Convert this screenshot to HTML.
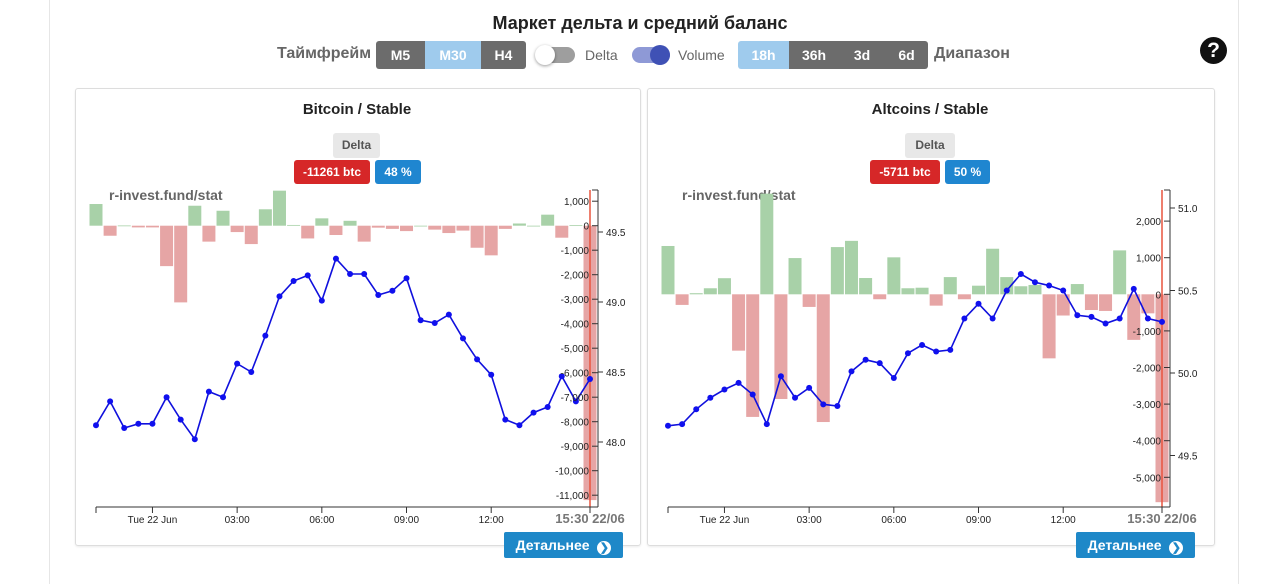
<!DOCTYPE html>
<html><head><meta charset="utf-8">
<style>
body{margin:0;background:#fff;font-family:"Liberation Sans",sans-serif;}
#root{position:relative;width:1280px;height:584px;overflow:hidden;}
.abs{position:absolute;}
.vline{position:absolute;top:0;width:1px;height:584px;background:#e6e6e6;}
.title{left:0;width:1280px;top:13px;text-align:center;font-weight:bold;font-size:18px;color:#222;}
.lbl{font-weight:bold;font-size:16px;color:#666;top:45px;}
.seg{top:41px;height:28px;display:flex;border-radius:3px;overflow:hidden;}
.seg div{color:#fff;font-weight:bold;font-size:14px;line-height:28px;text-align:center;background:#6c6c6c;}
.seg div.on{background:#9fcbed;}
.card{border:1px solid #ddd;border-radius:3px;top:88px;height:456px;box-shadow:0 1px 2px rgba(0,0,0,.08);}
.ctitle{font-weight:bold;font-size:15px;color:#222;text-align:center;}
.badge{font-size:12px;font-weight:bold;text-align:center;border-radius:3px;}
.btn{background:#1e88c8;color:#fff;font-weight:bold;font-size:14px;border-radius:2px;height:26px;line-height:26px;width:119px;text-align:center;}
</style></head><body>
<div id="root">
<div class="vline" style="left:49px"></div>
<div class="vline" style="left:1238px"></div>
<div class="abs title">Маркет дельта и средний баланс</div>
<div class="abs lbl" style="left:277px">Таймфрейм</div>
<div class="abs seg" style="left:376px">
<div style="width:49px">M5</div>
<div class="on" style="width:56px">M30</div>
<div style="width:45px">H4</div></div>
<div class="abs" style="left:537px;top:47px;width:38px;height:16px;border-radius:8px;background:#9e9e9e"><div style="position:absolute;left:-2px;top:-2px;width:20px;height:20px;border-radius:50%;background:#fff;box-shadow:0 1px 3px rgba(0,0,0,.4)"></div></div>
<div class="abs" style="left:585px;top:47px;font-size:14px;color:#666">Delta</div>
<div class="abs" style="left:632px;top:47px;width:38px;height:16px;border-radius:8px;background:#8e99d6"><div style="position:absolute;left:18px;top:-2px;width:20px;height:20px;border-radius:50%;background:#3f51b5"></div></div>
<div class="abs" style="left:678px;top:47px;font-size:14px;color:#666">Volume</div>
<div class="abs seg" style="left:738px">
<div class="on" style="width:51px">18h</div>
<div style="width:50px">36h</div>
<div style="width:46px">3d</div>
<div style="width:43px">6d</div></div>
<div class="abs lbl" style="left:934px">Диапазон</div>
<div class="abs" style="left:1200px;top:37px;width:27px;height:27px;border-radius:50%;background:#111;color:#fff;font-weight:bold;font-size:21px;line-height:27px;text-align:center">?</div>

<div class="abs card" style="left:75px;width:564px"></div>
<div class="abs card" style="left:647px;width:566px"></div>

<div class="abs ctitle" style="left:75px;width:564px;top:101px">Bitcoin / Stable</div>
<div class="abs ctitle" style="left:647px;width:566px;top:101px">Altcoins / Stable</div>
<div class="abs badge" style="left:333px;top:133px;width:47px;height:25px;line-height:25px;background:#e8e8e8;color:#555">Delta</div>
<div class="abs badge" style="left:294px;top:160px;width:76px;height:24px;line-height:24px;background:#d62728;color:#fff">-11261 btc</div>
<div class="abs badge" style="left:375px;top:160px;width:46px;height:24px;line-height:24px;background:#1f86d0;color:#fff">48 %</div>
<div class="abs badge" style="left:905px;top:133px;width:50px;height:25px;line-height:25px;background:#e8e8e8;color:#555">Delta</div>
<div class="abs badge" style="left:870px;top:160px;width:70px;height:24px;line-height:24px;background:#d62728;color:#fff">-5711 btc</div>
<div class="abs badge" style="left:945px;top:160px;width:45px;height:24px;line-height:24px;background:#1f86d0;color:#fff">50 %</div>

<svg class="abs" style="left:0;top:0" width="1280" height="584" id="charts"></svg>

<div class="abs btn" style="left:504px;top:532px">Детальнее <span style="display:inline-block;width:14px;height:14px;border-radius:50%;background:#fff;color:#1e88c8;font-size:11px;line-height:14px;vertical-align:-1px;margin-left:4px">❯</span></div>
<div class="abs btn" style="left:1076px;top:532px">Детальнее <span style="display:inline-block;width:14px;height:14px;border-radius:50%;background:#fff;color:#1e88c8;font-size:11px;line-height:14px;vertical-align:-1px;margin-left:4px">❯</span></div>
</div>
<script>
const btcDelta=[885,-410,10,-70,-70,-1650,-3130,815,-650,610,-260,-750,670,1430,30,-520,300,-380,200,-650,-80,-130,-220,0,-160,-300,-200,-900,-1210,-130,90,0,450,-490,20,-11200];
const btcBalance=[48.12,48.29,48.10,48.13,48.13,48.32,48.16,48.02,48.36,48.32,48.56,48.50,48.76,49.04,49.15,49.19,49.01,49.31,49.20,49.20,49.05,49.08,49.17,48.87,48.85,48.91,48.74,48.59,48.48,48.16,48.12,48.21,48.25,48.47,48.29,48.45];
const altDelta=[1320,-290,30,165,440,-1540,-3350,2750,-2860,990,-345,-3490,1290,1460,445,-135,1010,165,180,-310,470,-135,235,1245,470,220,255,-1750,-580,280,-430,-455,1200,-1245,-520,-5680];
const altBalance=[49.68,49.69,49.78,49.85,49.90,49.94,49.87,49.69,49.98,49.85,49.91,49.81,49.80,50.01,50.08,50.06,49.97,50.12,50.17,50.13,50.14,50.33,50.42,50.33,50.50,50.60,50.55,50.53,50.50,50.35,50.34,50.30,50.33,50.51,50.33,50.31];
const btcDeltaTicks=[1000,0,-1000,-2000,-3000,-4000,-5000,-6000,-7000,-8000,-9000,-10000,-11000];
const btcBalTicks=[49.5,49.0,48.5,48.0];
const altDeltaTicks=[2000,1000,0,-1000,-2000,-3000,-4000,-5000];
const altBalTicks=[51.0,50.5,50.0,49.5];
const timeTicks=[0,3,6,9,12];
const timeLabels=["Tue 22 Jun","03:00","06:00","09:00","12:00"];
const firstHour=-2, stepHour=0.5;

const svg=document.getElementById('charts');
const NS='http://www.w3.org/2000/svg';
function mk(t,a,txt){const e=document.createElementNS(NS,t);for(const k in a)e.setAttribute(k,a[k]);if(txt!==undefined)e.textContent=txt;svg.appendChild(e);return e;}
function fmt(v){return v.toLocaleString('en-US');}

function chart(p,delta,bal,dTicks,bTicks){
  const n=delta.length;
  const xi=i=>p.x0+i*(p.x1-p.x0)/(n-1);
  const xt=h=>xi((h-firstHour)/stepHour);
  const yd=v=>p.zeroY - v*p.dScale;
  const yb=v=>p.bRefY - (v-p.bRef)*p.bScale;
  const bw=13;
  let w=mk('text',{x:p.wmX,y:200,'font-size':14,'font-weight':'bold',fill:'#666'},'r-invest.fund/stat');
  
  
  delta.forEach((v,i)=>{
    const y0=yd(Math.max(v,0)),h=Math.max(Math.abs(v*p.dScale),0.8);
    const r=mk('rect',{x:xi(i)-bw/2,y:y0,width:bw,height:h,fill:v>=0?'#a8d1a8':'#e6a5a5'});
    
    
  });
  let red=mk('line',{x1:p.x1,x2:p.x1,y1:190,y2:507,stroke:'#e8553f','stroke-width':1.5});
  
  
  const pts=bal.map((v,i)=>xi(i)+','+yb(v)).join(' ');
  let pl=mk('polyline',{points:pts,fill:'none',stroke:'#1010dd','stroke-width':1.6});
  
  
  bal.forEach((v,i)=>{const c=mk('circle',{cx:xi(i),cy:yb(v),r:3,fill:'#1010ee'});
    
    });
  const ax=p.ax;
  let al=mk('line',{x1:ax,x2:ax,y1:190,y2:507,stroke:'#333'});
  
  
  mk('line',{x1:ax-6,x2:ax,y1:190,y2:190,stroke:'#333'});
  dTicks.forEach(v=>{const y=yd(v);mk('line',{x1:ax-6,x2:ax,y1:y,y2:y,stroke:'#333'});
    const t=mk('text',{x:ax-9,y:y+4,'font-size':10,'text-anchor':'end',fill:'#222'},fmt(v));
    
    });
  bTicks.forEach(v=>{const y=yb(v);mk('line',{x1:ax,x2:ax+5,y1:y,y2:y,stroke:'#333'});
    const t=mk('text',{x:ax+8,y:y+4,'font-size':10,fill:'#222'},v.toFixed(1));
    
    });
  let xl=mk('line',{x1:p.x0,x2:ax,y1:507,y2:507,stroke:'#333'});
  
  
  mk('line',{x1:p.x0,x2:p.x0,y1:507,y2:513,stroke:'#333'});
  timeTicks.forEach((h,i)=>{const x=xt(h);mk('line',{x1:x,x2:x,y1:507,y2:513,stroke:'#333'});
    const t=mk('text',{x:x,y:523,'font-size':10,'text-anchor':'middle',fill:'#222'},timeLabels[i]);
    
    });
  mk('line',{x1:p.x1,x2:p.x1,y1:507,y2:513,stroke:'#333'});
  let nl=mk('text',{x:p.x1,y:523,'font-size':13,'font-weight':'bold','text-anchor':'middle',fill:'#777'},'15:30 22/06');
  
  
}
chart({pre:'bitcoin',x0:96,x1:590,ax:598,zeroY:225.7,dScale:0.0245,bRef:49.5,bRefY:232,bScale:140,wmX:109},btcDelta,btcBalance,btcDeltaTicks,btcBalTicks);
chart({pre:'altcoins',x0:668,x1:1162,ax:1170,zeroY:294.3,dScale:0.0366,bRef:51.0,bRefY:208,bScale:165,wmX:682},altDelta,altBalance,altDeltaTicks,altBalTicks);
</script>
</body></html>
